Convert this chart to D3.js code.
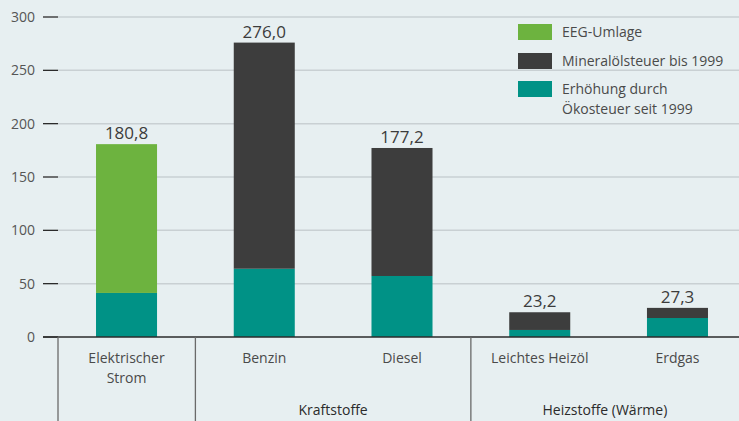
<!DOCTYPE html>
<meta charset="utf-8">
<script src="https://d3js.org/d3.v7.min.js"></script>
<style>
body { margin: 0; background: #e7eff1; }
text { font-family: "Open Sans", sans-serif; fill: #3c3c3c; }
</style>
<div id="chart"></div>
<script>
// data
var categories = ["Elektrischer Strom", "Benzin", "Diesel", "Leichtes Heizöl", "Erdgas"];
var catLines = [["Elektrischer", "Strom"], ["Benzin"], ["Diesel"], ["Leichtes Heizöl"], ["Erdgas"]];
var oekosteuer = [41.3, 64.0, 57.2, 6.6, 17.8];
var mineraloel = [0, 212.0, 120.0, 16.6, 9.5];
var eeg = [139.5, 0, 0, 0, 0];
var totals = ["180,8", "276,0", "177,2", "23,2", "27,3"];
var yTicks = [0, 50, 100, 150, 200, 250, 300];
var colors = ["#009286", "#3d3d3d", "#6db33f"];
var groups = [
  {name: "", from: 0, to: 0},
  {name: "Kraftstoffe", from: 1, to: 2},
  {name: "Heizstoffe (Wärme)", from: 3, to: 4}
];

var W = 739, H = 421;
var mLeft = 58, mRight = 739, mTop = 17, mBottom = 337;

var svg = d3.select("#chart").append("svg")
  .attr("width", W).attr("height", H);

// band scale runs a little past the right edge, like the original
var x = d3.scaleBand().domain(categories).range([mLeft, 746]).paddingInner(0.557).paddingOuter(0.276);
var y = d3.scaleLinear().domain([0, 300]).range([mBottom, mTop]);

// gridlines
svg.append("g").selectAll("line").data(yTicks.slice(1)).enter().append("line")
  .attr("x1", mLeft).attr("x2", mRight)
  .attr("y1", d => y(d)).attr("y2", d => y(d))
  .attr("stroke", "#c9d0d3").attr("stroke-width", 1.5);

// y axis ticks
svg.append("g").selectAll("line").data(yTicks).enter().append("line")
  .attr("x1", 43).attr("x2", mLeft)
  .attr("y1", d => y(d)).attr("y2", d => y(d))
  .attr("stroke", "#2b2b2b").attr("stroke-width", 1.3);
svg.append("g").selectAll("text").data(yTicks).enter().append("text")
  .attr("x", 35).attr("y", d => y(d)).attr("dy", "0.35em")
  .attr("text-anchor", "end").style("font-size", "14px").style("fill", "#555")
  .text(d => d);

// stacked bars
var rows = categories.map((c, i) => ({cat: c, s0: oekosteuer[i], s1: mineraloel[i], s2: eeg[i]}));
var stack = d3.stack().keys(["s0", "s1", "s2"])(rows);
svg.append("g").selectAll("g").data(stack).enter().append("g")
  .attr("fill", (d, i) => colors[i])
  .selectAll("rect").data(d => d).enter().append("rect")
  .attr("x", d => x(d.data.cat))
  .attr("width", x.bandwidth())
  .attr("y", d => y(d[1]))
  .attr("height", d => y(d[0]) - y(d[1]));

// total labels
svg.append("g").selectAll("text").data(categories).enter().append("text")
  .attr("x", d => x(d) + x.bandwidth() / 2)
  .attr("y", (d, i) => y(oekosteuer[i] + mineraloel[i] + eeg[i]) - 5)
  .attr("text-anchor", "middle").style("font-size", "17px")
  .text((d, i) => totals[i]);

// baseline
svg.append("line").attr("x1", 43).attr("x2", mRight)
  .attr("y1", mBottom).attr("y2", mBottom)
  .attr("stroke", "#2b2b2b").attr("stroke-width", 1.3);

// category labels
var catG = svg.append("g");
categories.forEach(function(c, i) {
  catLines[i].forEach(function(l, j) {
    catG.append("text")
      .attr("x", x(c) + x.bandwidth() / 2)
      .attr("y", 363 + j * 20)
      .attr("text-anchor", "middle").style("font-size", "14px").style("fill", "#4a4a4a")
      .text(l);
  });
});

// group separators and labels
var step = x.step();
groups.forEach(function(g) {
  var x0 = x(categories[g.from]) - (step - x.bandwidth()) / 2;
  var x1 = g.to === categories.length - 1 ? mRight : x(categories[g.to]) + x.bandwidth() + (step - x.bandwidth()) / 2;
  if (g.from === 0) x0 = mLeft;
  svg.append("line").attr("x1", x0).attr("x2", x0)
    .attr("y1", mBottom).attr("y2", H)
    .attr("stroke", "#6a6a6a").attr("stroke-width", 1.3);
  if (g.name) {
    svg.append("text").attr("x", (x0 + x1) / 2).attr("y", 415)
      .attr("text-anchor", "middle").style("font-size", "14px").style("fill", "#2b2b2b")
      .text(g.name);
  }
});

// legend
var legendItems = [
  {lines: ["EEG-Umlage"], color: colors[2]},
  {lines: ["Mineralölsteuer bis 1999"], color: colors[1]},
  {lines: ["Erhöhung durch", "Ökosteuer seit 1999"], color: colors[0]}
];
var legY = [24, 53, 81];
var leg = svg.append("g");
legendItems.forEach(function(it, i) {
  leg.append("rect").attr("x", 518).attr("y", legY[i]).attr("width", 34).attr("height", 16).attr("fill", it.color);
  it.lines.forEach(function(l, j) {
    leg.append("text").attr("x", 562).attr("y", legY[i] + 8 + j * 20).attr("dy", "0.35em")
      .style("font-size", "14px").style("fill", "#4a4a4a").text(l);
  });
});
</script>
